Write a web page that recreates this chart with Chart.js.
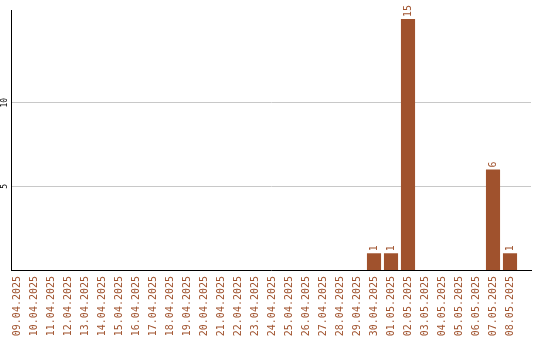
<!DOCTYPE html>
<html>
<head>
<meta charset="utf-8">
<script src="https://cdn.jsdelivr.net/npm/chart.js@4/dist/chart.umd.min.js"></script>
<style>
  body { margin: 0; background: #fff; }
  #wrap { width: 540px; height: 340px; }
</style>
</head>
<body>
<div id="wrap"><canvas id="chart"></canvas></div>
<script>
const dateLabels = [
  "09.04.2025", "10.04.2025", "11.04.2025", "12.04.2025", "13.04.2025",
  "14.04.2025", "15.04.2025", "16.04.2025", "17.04.2025", "18.04.2025",
  "19.04.2025", "20.04.2025", "21.04.2025", "22.04.2025", "23.04.2025",
  "24.04.2025", "25.04.2025", "26.04.2025", "27.04.2025", "28.04.2025",
  "29.04.2025", "30.04.2025", "01.05.2025", "02.05.2025", "03.05.2025",
  "04.05.2025", "05.05.2025", "06.05.2025", "07.05.2025", "08.05.2025"
];
const counts = [
  0, 0, 0, 0, 0, 0, 0, 0, 0, 0,
  0, 0, 0, 0, 0, 0, 0, 0, 0, 0,
  0, 1, 1, 15, 0, 0, 0, 0, 6, 1
];
const yTicks = [5, 10];

const brown = "#a0522d";
const monoFont = "'DejaVu Sans Mono', monospace";

// numbers above bars, rotated like the date labels
const valueLabels = {
  id: "valueLabels",
  afterDatasetsDraw(chart) {
    const ctx = chart.ctx;
    const meta = chart.getDatasetMeta(0);
    ctx.save();
    ctx.fillStyle = brown;
    ctx.font = "10px " + monoFont;
    ctx.textAlign = "left";
    ctx.textBaseline = "middle";
    meta.data.forEach((bar, i) => {
      if (!counts[i]) return;
      ctx.save();
      ctx.translate(bar.x, bar.y - 2);
      ctx.rotate(-Math.PI / 2);
      ctx.fillText(String(counts[i]), 0, 0);
      ctx.restore();
    });
    ctx.restore();
  },
};

// y tick numbers, drawn vertically at the scale's own pixels
const yTickLabels = {
  id: "yTickLabels",
  afterDraw(chart) {
    const ctx = chart.ctx;
    const y = chart.scales.y;
    ctx.save();
    ctx.fillStyle = "#000";
    ctx.font = "8px " + monoFont;
    ctx.textAlign = "center";
    ctx.textBaseline = "middle";
    yTicks.forEach((v) => {
      ctx.save();
      ctx.translate(5, y.getPixelForValue(v));
      ctx.rotate(-Math.PI / 2);
      ctx.fillText(String(v), 0, 0);
      ctx.restore();
    });
    ctx.restore();
  },
};

new Chart(document.getElementById("chart"), {
  type: "bar",
  data: {
    datasets: [
      {
        data: counts.map((c, i) => ({ x: i, y: c })),
        backgroundColor: brown,
        borderWidth: 0,
        barPercentage: 0.83,
        categoryPercentage: 1,
      },
    ],
  },
  options: {
    responsive: true,
    maintainAspectRatio: false,
    animation: false,
    layout: { padding: { top: 10, right: 9, left: 0, bottom: 0 } },
    plugins: {
      legend: { display: false },
      tooltip: { enabled: false },
    },
    scales: {
      x: {
        type: "linear",
        offset: false,
        min: -0.353,
        max: 30.235,
        grid: { display: false, drawTicks: false, offset: false },
        border: { display: true, color: "#000", width: 1 },
        ticks: {
          stepSize: 1,
          includeBounds: false,
          autoSkip: false,
          minRotation: 90,
          maxRotation: 90,
          padding: 6,
          color: brown,
          font: { family: monoFont, size: 10 },
          callback: (v) => dateLabels[v] || "",
        },
        afterFit: (scale) => {
          scale.height = 70;
          scale.paddingLeft = 0;
          scale.paddingRight = 0;
        },
      },
      y: {
        min: 0,
        max: 15.54,
        grid: { color: "#c8c8c8", drawTicks: false },
        border: { display: true, color: "#000", width: 1 },
        ticks: { display: false },
        afterBuildTicks: (scale) => {
          scale.ticks = yTicks.map((v) => ({ value: v }));
        },
        afterFit: (scale) => {
          scale.width = 11;
        },
      },
    },
  },
  plugins: [valueLabels, yTickLabels],
});
</script>
</body>
</html>
